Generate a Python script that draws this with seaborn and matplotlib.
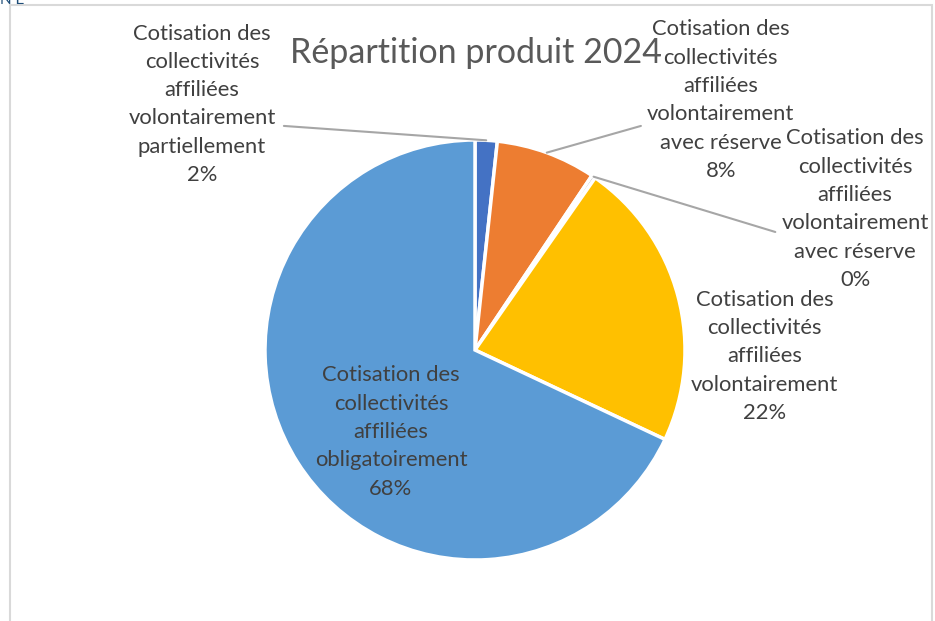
import numpy as np
import matplotlib.pyplot as plt
import seaborn as sns
from matplotlib.patches import Rectangle

# ==========================================
# DATA
# ==========================================
TITLE = "Répartition produit 2024"
CATEGORIES = [
    "Cotisation des\ncollectivités\naffiliées\nvolontairement\npartiellement",
    "Cotisation des\ncollectivités\naffiliées\nvolontairement\navec réserve",
    "Cotisation des\ncollectivités\naffiliées\nvolontairement\navec réserve",
    "Cotisation des\ncollectivités\naffiliées\nvolontairement",
    "Cotisation des\ncollectivités\naffiliées\nobligatoirement",
]
VALUES = [1.7, 7.7, 0.3, 22.3, 68.0]
COLORS = ["#4472C4", "#ED7D31", "#A5A5A5", "#FFC000", "#5B9BD5"]

# label centres (pie radius = 1) and where the leader line starts
LABEL_POS = [(-1.30, 1.17), (1.17, 1.19), (1.81, 0.67), (1.38, -0.03), (-0.40, -0.39)]
LEADER_START = [(-0.91, 1.067), (0.79, 1.067), (1.43, 0.562), None, None]

sns.set_theme(style="white")
plt.rcParams['font.family'] = ['Lato', 'DejaVu Sans']

W, H = 935, 621
fig = plt.figure(figsize=(W / 100, H / 100), dpi=100)
cx, cy, r = 475, 350, 210
ax = fig.add_axes([(cx - r) / W, (H - cy - r) / H, 2 * r / W, 2 * r / H])

wedges, _ = ax.pie(VALUES, colors=COLORS, startangle=90, counterclock=False,
                   wedgeprops=dict(edgecolor="white", linewidth=2.5))
ax.set_xlim(-1, 1)
ax.set_ylim(-1, 1)
ax.set_aspect("equal")
ax.axis("off")

total = sum(VALUES)
txt_color = "#404040"
for w, cat, v, pos, lead in zip(wedges, CATEGORIES, VALUES, LABEL_POS, LEADER_START):
    label = f"{cat}\n{round(v / total * 100):.0f}%"
    ax.text(pos[0], pos[1], label, ha="center", va="center", fontsize=15.8,
            color=txt_color, linespacing=1.52, clip_on=False, zorder=5)
    if lead is not None:
        mid = np.deg2rad((w.theta1 + w.theta2) / 2)
        ex, ey = np.cos(mid), np.sin(mid)
        ax.plot([lead[0], ex], [lead[1], ey], color="#A6A6A6", lw=1.5,
                clip_on=False, zorder=4)

fig.text(476 / W, 1 - 53 / H, TITLE, ha="center", va="center",
         fontsize=24.5, color="#595959", zorder=3)

# chart frame partially visible
fig.patches.append(Rectangle((10 / W, -0.1), (932 - 10) / W, 1.1 - 5 / H,
                             transform=fig.transFigure, fill=False,
                             edgecolor="#D9D9D9", lw=1.5))
fig.text(0.0, 1.0, "N E", ha="left", va="center", fontsize=11, color="#1F4E79")

fig.savefig("out.png", dpi=100)
